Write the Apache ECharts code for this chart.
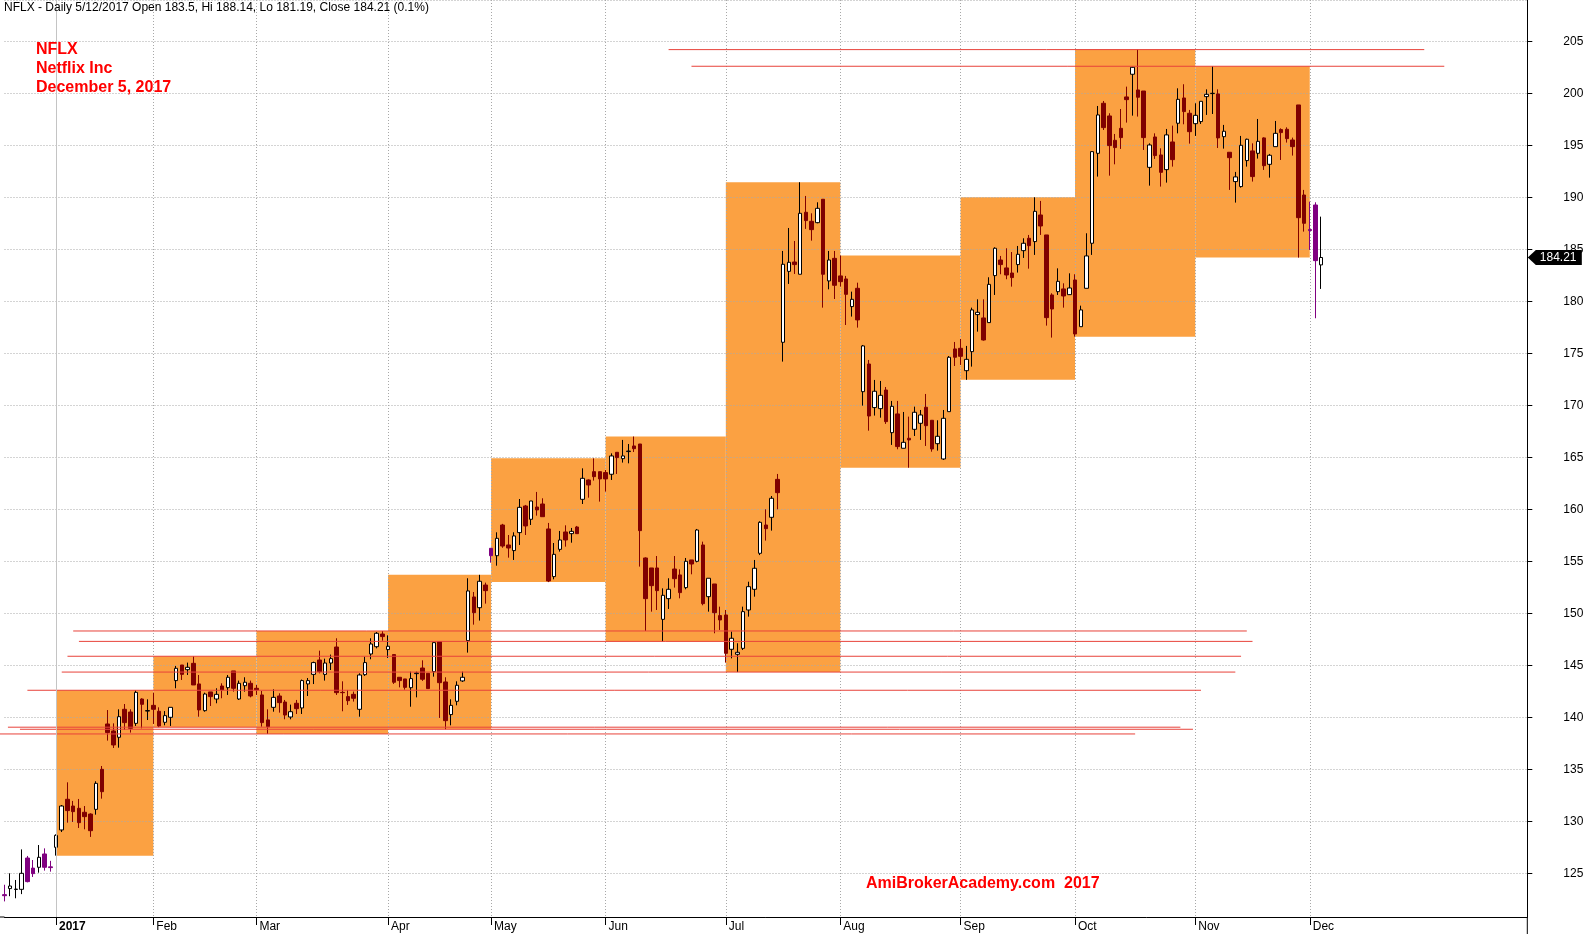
<!DOCTYPE html>
<html>
<head>
<meta charset="utf-8">
<script src="https://cdn.jsdelivr.net/npm/echarts@6/dist/echarts.min.js"></script>
<style>
html,body{margin:0;padding:0;background:#fff;}
#chart{width:1588px;height:934px;}
</style>
</head>
<body>
<div id="chart"></div>
<script>
// ---- DATA: daily candles [open, close, low, high] grouped by month ----
const dec16 = [
[122.95,122.85,122.3,123.9],[123.53,123.78,122.8,125.0],[123.45,123.48,122.6,124.36],[123.46,125.0,123.0,127.3],
[126.47,124.2,124.13,126.67],[125.5,124.97,124.65,126.28],[125.58,126.54,125.06,127.72],[126.86,125.58,125.26,127.4],
[125.62,125.55,125.16,126.2]
];
const jan17 = [
[127.5,128.65,126.7,128.75],[129.17,131.47,128.97,131.57],[132.12,131.03,129.87,133.75],[131.47,130.93,129.94,131.96],
[131.25,129.87,129.36,132.15],[130.87,130.45,129.23,131.47],[130.7,129.1,128.5,130.77],[131.15,133.65,130.64,133.85],
[135.0,132.85,132.18,135.32],[139.36,138.53,137.76,140.7],[138.69,137.34,137.05,139.42],[138.08,140.06,137.08,140.77],
[140.77,139.49,138.78,141.28],[140.51,138.94,138.53,140.77],[139.42,142.4,139.17,142.6],[141.76,141.25,138.94,141.83],
[140.6,140.65,139.74,141.73]
];
const feb17 = [
[141.15,140.77,139.36,142.37],[140.58,139.17,139.05,140.96],[139.52,140.16,139.23,140.6],[140.0,140.96,139.17,140.96],
[143.53,144.71,142.79,144.94],[145.03,144.13,143.59,145.03],[144.58,144.81,144.07,145.26],[145.19,143.11,143.11,145.87],
[143.21,140.71,140.06,144.07],[140.64,142.24,140.54,142.37],[142.44,141.99,141.09,142.44],[141.76,142.21,141.35,142.79],
[143.01,142.63,141.83,143.27],[142.85,143.85,142.15,144.07],[144.46,142.79,142.47,144.46],[141.76,143.27,141.67,143.53],
[143.04,143.37,142.47,143.85],[143.27,142.05,141.92,143.53]
];
const mar17 = [
[142.79,142.63,142.15,143.11],[142.15,139.49,139.1,142.53],[139.75,139.1,138.4,140.77],[140.96,141.92,140.54,142.69],
[142.05,141.41,140.45,142.31],[141.47,140.22,139.81,141.67],[140.03,140.54,139.81,141.22],[141.35,140.83,140.32,141.67],
[140.9,143.53,140.32,143.63],[143.21,143.53,142.05,143.78],[144.13,145.26,143.2,145.35],[145.51,144.39,144.23,146.41],
[144.13,145.22,143.53,145.64],[145.22,145.64,144.55,146.03],[146.76,142.37,142.15,147.6],[142.4,142.37,140.58,143.46],
[141.99,141.6,141.19,142.63],[142.21,141.83,141.51,142.47],[140.77,144.07,140.06,144.23],[144.1,145.26,143.98,145.83],
[146.09,147.05,145.58,147.6],[146.79,148.08,146.63,148.2],[148.01,147.76,147.37,148.3]
];
const apr17 = [
[146.51,146.83,145.71,147.88],[146.03,143.37,143.21,146.03],[143.85,143.53,142.88,143.85],[143.69,142.88,142.66,143.69],
[142.85,143.72,141.02,144.39],[144.2,144.26,141.92,144.39],[144.74,143.66,143.5,145.48],[144.23,142.76,142.76,144.23],
[144.39,147.18,143.91,147.18],[147.28,143.33,139.94,147.28],[143.4,139.68,138.85,143.85],[140.26,141.15,139.23,141.73],
[141.54,143.08,141.15,143.46],[143.5,143.85,143.4,144.39],[147.37,152.15,146.22,153.37],[151.57,150.06,148.91,152.05],
[150.54,153.08,149.3,153.7],[152.72,152.18,150.93,152.95]
];
const may17 = [
[156.25,155.54,154.87,156.25],[155.54,157.21,154.58,157.79],[158.49,156.47,156.3,158.6],[156.57,156.28,155.35,157.53],
[156.03,157.44,155.13,157.79],[157.76,160.19,156.57,160.99],[160.32,158.4,157.53,160.42],[159.04,160.8,158.49,160.8],
[160.22,159.94,159.39,161.67],[160.51,159.29,159.29,161.06],[158.11,153.11,153.0,158.69],[153.53,155.67,153.27,156.76],
[156.15,157.05,155.93,157.92],[157.82,157.05,156.41,158.46],[157.66,157.88,156.79,158.21],[158.3,157.66,157.66,158.4],
[160.96,162.98,160.51,163.94],[162.82,162.34,161.12,162.88],[163.62,163.14,162.76,164.9],[163.62,162.92,160.74,163.62]
];
const jun17 = [
[163.53,162.92,161.7,163.78],[163.37,165.13,162.82,165.38],[165.48,164.97,163.4,165.48],[164.87,165.13,164.49,166.67],
[165.55,165.6,164.42,166.28],[166.09,165.83,165.51,167.0],[166.28,157.95,154.49,166.28],[155.32,151.41,148.3,155.38],
[154.36,152.66,150.16,154.36],[154.36,152.18,150.32,155.51],[149.42,151.73,147.3,152.4],[151.41,152.31,150.42,153.37],
[154.26,153.33,152.47,155.51],[153.69,151.99,151.44,154.23],[152.47,155.0,152.31,155.32],[155.13,154.74,153.75,155.13],
[155.0,158.01,154.9,158.11],[156.57,150.93,150.77,156.89],[151.6,153.37,150.16,153.37],[152.82,150.06,148.08,152.82],
[149.78,149.36,148.4,150.64]
];
const jul17 = [
[149.84,146.15,145.26,150.32],[146.54,147.6,145.67,148.24],[146.06,146.25,144.35,147.12],[146.63,150.16,146.47,150.64],
[150.32,152.56,149.68,153.04],[152.31,154.33,151.6,155.13],[155.77,158.75,155.6,158.85],[158.49,158.14,156.99,160.0],
[159.23,161.06,157.95,161.28],[162.88,161.6,160.0,163.4],[176.06,183.56,174.2,184.84],[182.88,183.75,181.67,187.05],
[183.78,183.53,182.63,185.8],[182.6,188.46,182.6,191.45],[188.56,187.76,186.96,190.13],[187.69,186.89,185.83,188.46],
[187.56,188.94,187.5,189.52],[189.81,182.6,179.39,189.81],[181.96,183.97,181.15,184.84],[184.13,181.54,180.22,184.84]
];
const aug17 = [
[182.44,181.89,181.41,184.4],[182.15,180.67,177.72,182.44],[179.49,180.19,178.53,180.93],[181.25,178.21,177.47,181.79],
[171.31,175.71,169.97,175.8],[173.97,168.97,167.56,174.36],[169.78,171.35,169.01,172.44],[169.68,170.96,168.81,172.34],
[171.47,168.43,168.21,171.76],[167.37,169.9,166.19,170.42],[169.17,166.03,165.77,170.42],[165.87,166.44,165.87,169.36],
[166.83,166.67,164.0,168.91],[167.69,169.33,167.05,169.87],[168.27,169.07,166.67,169.55],[169.81,168.04,166.09,171.09],
[168.56,165.8,165.54,168.56],[166.31,167.02,165.64,168.56],[164.84,168.75,164.74,169.55],[169.39,174.62,169.39,174.74],
[175.42,174.62,173.78,176.09]
];
const sep17 = [
[175.48,174.71,173.88,176.38],[173.33,174.42,172.45,175.71],[175.16,179.17,173.72,179.39],[178.72,178.94,177.08,180.19],
[178.4,176.28,176.22,180.19],[177.95,181.63,177.95,182.31],[182.47,185.1,180.61,185.19],[183.97,183.53,182.6,184.36],
[183.21,182.53,182.12,185.1],[182.72,182.28,181.41,184.74],[183.53,184.52,182.76,185.32],[184.87,185.58,184.17,186.06],
[186.06,185.35,183.14,186.38],[185.74,188.65,184.46,190.0],[188.3,187.24,186.38,189.65],[186.38,178.43,177.66,186.38],
[180.61,179.26,176.51,180.77],[180.93,181.92,180.61,183.17],[181.19,180.51,179.39,181.73],[180.64,181.28,180.61,182.69]
];
const oct17 = [
[182.05,176.86,176.6,182.6],[177.56,179.17,177.56,179.58],[181.25,184.36,181.25,186.54],[185.58,194.39,184.46,194.39],
[194.23,197.92,191.99,198.78],[199.04,196.7,196.47,199.26],[197.82,194.97,192.08,198.08],[195.48,194.78,193.17,196.09],
[196.63,195.74,194.65,198.49],[199.65,199.39,197.18,200.64],[201.83,202.5,197.85,202.55],[200.32,199.62,197.76,204.2],
[200.22,195.74,194.55,200.22],[192.88,195.03,191.12,195.19],[195.8,194.01,193.69,196.15],[194.07,192.4,191.03,194.71],
[192.66,196.0,191.41,196.57],[195.32,193.62,192.95,196.89],[197.12,199.42,196.15,200.48],[199.55,198.24,197.02,200.87],
[198.08,196.31,195.16,198.4]
];
const nov17 = [
[197.08,197.88,195.9,199.04],[197.28,199.23,197.05,199.23],[199.68,199.9,197.92,200.38],[199.97,200.0,198.01,202.6],
[199.94,195.71,194.74,200.38],[195.83,196.35,194.68,196.96],[194.33,193.81,190.71,194.33],[191.51,191.96,189.49,192.44],
[191.03,195.0,190.93,195.9],[193.53,195.58,192.95,195.64],[194.46,191.99,191.51,195.19],[194.23,195.38,193.72,197.53],
[195.71,193.04,192.63,195.77],[193.17,194.04,191.89,194.17],[194.87,196.15,194.87,197.34],[196.51,196.22,193.59,196.63],
[196.54,195.64,195.26,196.73],[195.51,194.87,194.01,195.74],[198.88,188.04,184.2,198.88],[190.22,187.5,186.7,190.71]
];
const dec17 = [
[186.9,186.8,184.94,189.58],[189.26,183.91,178.37,189.52],[183.5,184.21,181.19,188.14]
];

// x-axis month tick labels (first bar of each month from Jan 2017)
const monthLabels = ['2017','Feb','Mar','Apr','May','Jun','Jul','Aug','Sep','Oct','Nov','Dec'];
// bars drawn in purple instead of dark red
const purpleBars = [0,4,5,7,8,85,228,229];
// horizontal red level lines: [from bar, to bar, price]
const levelLines = [
[116,248,204.2],[120,251.5,202.6],[12,217,148.3],[13,218,147.3],[11,216,145.87],
[10,215,144.35],[4,209,142.6],[0.6,205.4,139.05],[2.7,207.6,138.85],[-7.4,197.5,138.4]
];
const blankSlots = 36;          // empty space to the right of the last bar
const yRange = [120.8, 208.97];

const headerText = 'NFLX - Daily 5/12/2017 Open 183.5, Hi 188.14, Lo 181.19, Close 184.21 (0.1%)';
const titleLines = ['NFLX','Netflix Inc','December 5, 2017'];
const watermark = 'AmiBrokerAcademy.com  2017';

// ---- build ----
const months = [dec16, jan17, feb17, mar17, apr17, may17, jun17, jul17, aug17, sep17, oct17, nov17, dec17];
const candles = [].concat(...months);
const monthStart = [];
{ let acc = dec16.length; for (let m = 1; m < months.length; m++) { monthStart.push(acc); acc += months[m].length; } }
const monthStartSet = new Set(monthStart);
const labelAt = {}; monthStart.forEach((s, k) => { labelAt[s] = monthLabels[k]; });
const total = candles.length + blankSlots;
const categories = Array.from({length: total}, (_, i) => String(i));

const boxes = [];
for (let k = 0; k < monthStart.length - 1; k++) {
  const s = monthStart[k], e = monthStart[k + 1];
  const seg = candles.slice(s, e);
  boxes.push([s, e, Math.max(...seg.map(d => d[3])), Math.min(...seg.map(d => d[2]))]);
}
const lastClose = candles[candles.length - 1][1];

const W = 1588, H = 934;
const gridLeft = 4.5, gridRight = 60.7, gridTop = 0, gridBottom = 17;
const FONT = '"Liberation Sans", Arial, sans-serif';
const GRID_COLOR = '#a8a8a8';

function xAt(api, f, v) {
  const i0 = Math.floor(f);
  const a = api.coord([i0, v]);
  const b = api.coord([i0 + 1, v]);
  return [a[0] + (b[0] - a[0]) * (f - i0), a[1]];
}

const chart = echarts.init(document.getElementById('chart'), null, {renderer: 'canvas'});
chart.setOption({
  animation: false,
  backgroundColor: '#ffffff',
  grid: {left: gridLeft, right: gridRight, top: gridTop, bottom: gridBottom, containLabel: false, outerBoundsMode: 'none'},
  xAxis: {
    type: 'category',
    data: categories,
    boundaryGap: false,
    axisLine: {show: true, lineStyle: {color: '#000', width: 1}},
    axisTick: {show: true, length: 8, interval: (i) => monthStartSet.has(i), lineStyle: {color: '#000'}},
    axisLabel: {
      show: true, interval: (i) => monthStartSet.has(i),
      formatter: (v, i) => { const l = labelAt[i]; if (!l) return ''; return l === '2017' ? '{b|' + l + '}' : l; },
      align: 'left', margin: 4, padding: [0, 0, 0, 3],
      color: '#000', fontSize: 12, fontFamily: FONT,
      rich: {b: {fontWeight: 'bold', fontSize: 12, fontFamily: FONT, color: '#000'}}
    },
    splitLine: {show: true, interval: (i) => monthStartSet.has(i) && i !== monthStart[0],
      lineStyle: {color: GRID_COLOR, type: [1, 2], width: 1}}
  },
  yAxis: {
    type: 'value', position: 'right',
    min: yRange[0], max: yRange[1], splitNumber: 18,
    axisLine: {show: true, lineStyle: {color: '#000', width: 1}},
    axisTick: {show: true, length: 5, lineStyle: {color: '#000'}},
    axisLabel: {show: true, margin: 8, padding: [0, 0, 0, 28], align: 'left', color: '#000', fontSize: 12,
      fontFamily: FONT, showMinLabel: false, showMaxLabel: false},
    splitLine: {show: true, lineStyle: {color: GRID_COLOR, type: [1, 2], width: 1}}
  },
  series: [
    {
      type: 'custom', name: 'monthRange', z: -1, silent: true,
      data: boxes, encode: {x: 0, y: 2},
      renderItem: (params, api) => {
        const b = boxes[params.dataIndex];
        const p1 = api.coord([b[0], b[2]]);
        const p2 = api.coord([b[1], b[3]]);
        return {type: 'rect', shape: {x: p1[0], y: p1[1], width: p2[0] - p1[0], height: p2[1] - p1[1]},
          style: {fill: '#fba142'}};
      }
    },
    {
      type: 'candlestick', name: 'NFLX', z: 2, barWidth: 4,
      data: candles.map((d, i) => purpleBars.includes(i)
        ? {value: d, itemStyle: {color0: '#800080', borderColor0: '#800080'}} : d),
      itemStyle: {color: '#ffffff', color0: '#800000', borderColor: '#000000', borderColor0: '#800000', borderWidth: 1},
      emphasis: {disabled: true},
      markLine: {
        silent: true, symbol: ['none', 'none'], label: {show: false},
        lineStyle: {color: '#c4c4c4', type: 'solid', width: 1},
        data: [{xAxis: String(monthStart[0])}]
      }
    },
    {
      type: 'custom', name: 'levels', z: 3, silent: true, clip: false,
      data: levelLines, encode: {x: 0, y: 2},
      renderItem: (params, api) => {
        const L = levelLines[params.dataIndex];
        const a = xAt(api, L[0], L[2]);
        const b = xAt(api, L[1], L[2]);
        const x1 = Math.max(a[0], 0);
        return {type: 'line', shape: {x1: x1, y1: a[1], x2: b[0], y2: b[1]},
          style: {stroke: '#e8423a', lineWidth: 1}};
      }
    },
    {
      type: 'custom', name: 'lastPrice', z: 10, silent: true, clip: false,
      data: [[candles.length - 1, lastClose]], encode: {x: 0, y: 1},
      renderItem: (params, api) => {
        const cs = params.coordSys;
        const y = api.coord([0, lastClose])[1];
        const x0 = cs.x + cs.width + 0.5;
        return {type: 'group', children: [
          {type: 'polygon', shape: {points: [[x0, y], [x0 + 8, y - 7.5], [x0 + 54, y - 7.5], [x0 + 54, y + 7.5], [x0 + 8, y + 7.5]]},
            style: {fill: '#000'}},
          {type: 'text', style: {text: lastClose.toFixed(2), x: x0 + 12, y: y, fill: '#fff',
            font: '12px ' + FONT, verticalAlign: 'middle', align: 'left'}}
        ]};
      }
    }
  ],
  graphic: [
    {type: 'text', left: 4, top: 2, z: 20, style: {text: headerText, font: '12px ' + FONT, fill: '#000'}},
    {type: 'text', left: 36, top: 40, z: 20, style: {text: titleLines.join('\n'), font: 'bold 16px ' + FONT,
      fill: '#ff0000', lineHeight: 19}},
    {type: 'text', left: 866, top: 876, z: 20, style: {text: watermark, font: 'bold 16px ' + FONT, fill: '#ff0000'}},
    {type: 'line', z: 20, shape: {x1: W - gridRight, y1: H - gridBottom, x2: W - gridRight, y2: H},
      style: {stroke: '#000', lineWidth: 1}},
    {type: 'line', z: 20, shape: {x1: 0, y1: H - gridBottom, x2: gridLeft, y2: H - gridBottom},
      style: {stroke: '#000', lineWidth: 1}}
  ]
});
</script>
</body>
</html>
